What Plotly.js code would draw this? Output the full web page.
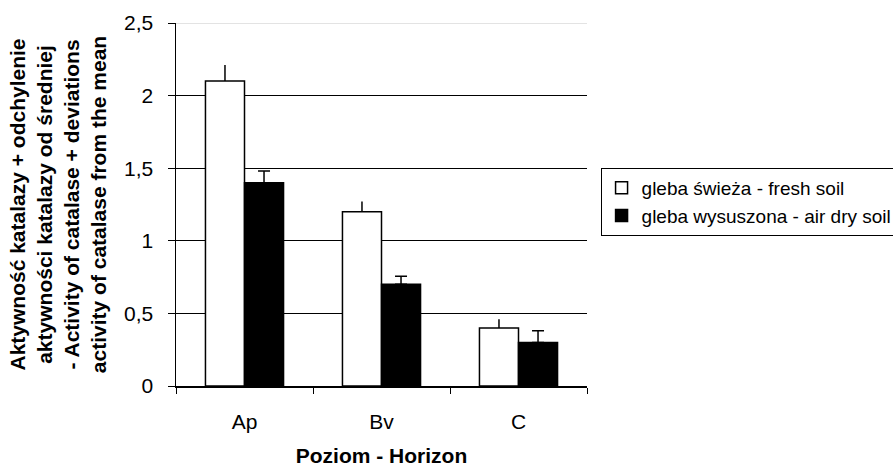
<!DOCTYPE html>
<html>
<head>
<meta charset="utf-8">
<script src="https://cdn.plot.ly/plotly-3.0.1.min.js"></script>
<style>html,body{margin:0;padding:0;background:#fff;}#chart{width:893px;height:467px;}</style>
</head>
<body>
<div id="chart"></div>
<script>
// Data
const categories = ["Ap", "Bv", "C"];
const freshSoil = [2.1, 1.2, 0.4];
const freshErr = [0.11, 0.07, 0.06];
const drySoil = [1.4, 0.7, 0.3];
const dryErr = [0.08, 0.055, 0.08];
const seriesNames = ["gleba świeża - fresh soil", "gleba wysuszona - air dry soil"];
const yTicks = [0, 0.5, 1, 1.5, 2, 2.5];

const FONT = '"Liberation Sans", Arial, sans-serif';

const traces = [
  {
    type: 'bar', name: seriesNames[0], x: categories, y: freshSoil, legendgroup: 'a',
    marker: {color: '#ffffff', line: {color: '#000000', width: 1.5}},
    error_y: {type: 'data', array: freshErr, symmetric: false, arrayminus: [0,0,0], color: '#000000', thickness: 1.5, width: 0}
  },
  {
    type: 'bar', name: seriesNames[1], x: categories, y: drySoil, legendgroup: 'b',
    marker: {color: '#000000', line: {color: '#000000', width: 1.5}},
    error_y: {type: 'data', array: dryErr, symmetric: false, arrayminus: [0,0,0], color: '#000000', thickness: 1.5, width: 6}
  }
];

const layout = {
  width: 893, height: 467,
  margin: {l: 176, r: 306, t: 23, b: 81, autoexpand: false},
  paper_bgcolor: '#ffffff', plot_bgcolor: '#ffffff',
  font: {family: FONT, color: '#000000', size: 20},
  separators: ', ',
  barmode: 'group', bargap: 0.43, bargroupgap: 0,
  showlegend: true,
  legend: {
    x: 1.033, y: 0.601, xanchor: 'left', yanchor: 'top',
    bordercolor: '#000000', borderwidth: 1, bgcolor: '#ffffff',
    font: {family: FONT, size: 19, color: '#000000'},
    tracegroupgap: 12, traceorder: 'normal'
  },
  xaxis: {
    type: 'category',
    showline: true, linecolor: '#000000', linewidth: 1.5,
    ticks: 'outside', tickson: 'boundaries', ticklen: 6, tickcolor: '#000000', tickwidth: 1,
    tickfont: {family: FONT, size: 21, color: '#000000'},
    ticklabelstandoff: 16,
    showgrid: false, zeroline: false,
    title: {text: '<b>Poziom - Horizon</b>', font: {family: FONT, size: 21, color: '#000000'}, standoff: 16},
    automargin: false
  },
  yaxis: {
    range: [0, 2.5], tickvals: yTicks,
    showline: true, linecolor: '#000000', linewidth: 1.5,
    ticks: 'outside', ticklen: 7, tickcolor: '#000000', tickwidth: 1,
    tickfont: {family: FONT, size: 21, color: '#000000'},
    ticklabelstandoff: 10,
    showgrid: true, gridcolor: '#000000', gridwidth: 1,
    zeroline: false,
    title: {
      text: '<b>Aktywność katalazy + odchylenie<br>aktywności katalazy od średniej<br>- Activity of catalase + deviations<br>activity of catalase from the mean</b>',
      font: {family: FONT, size: 21, color: '#000000'}, standoff: 11
    },
    automargin: false
  },
  shapes: [
    {type: 'line', xref: 'paper', yref: 'y', x0: 0, x1: 1, y0: 2.5, y1: 2.5, line: {color: '#c8c8c8', width: 1}, layer: 'above'}
  ]
};

Plotly.newPlot('chart', traces, layout, {displayModeBar: false, staticPlot: true});
</script>
</body>
</html>
